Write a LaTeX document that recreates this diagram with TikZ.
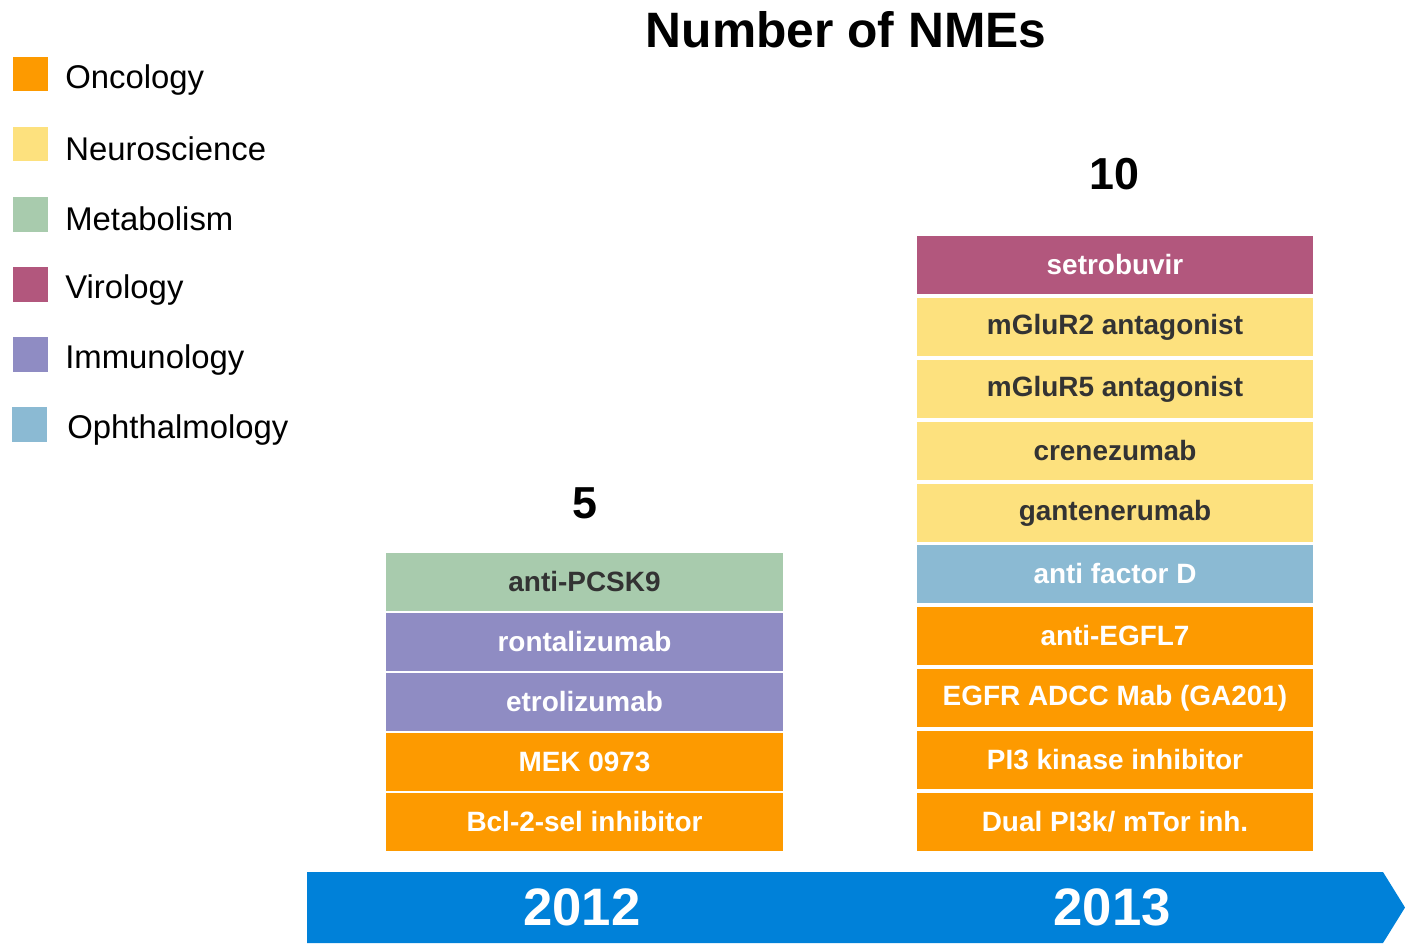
\documentclass[tikz,border=0pt]{standalone}
\usepackage{fontspec}
\setmainfont{Liberation Sans}
\usetikzlibrary{positioning}

\definecolor{onco}{HTML}{FD9A00}
\definecolor{neuro}{HTML}{FDE17E}
\definecolor{metab}{HTML}{A8CBAD}
\definecolor{viro}{HTML}{B2577D}
\definecolor{immuno}{HTML}{8F8CC3}
\definecolor{ophtha}{HTML}{8BBAD3}
\definecolor{banner}{HTML}{0081D9}
\definecolor{darktext}{HTML}{333333}

\begin{document}
\begin{tikzpicture}[
  x=0.02cm, y=-0.02cm,
  drug/.style={minimum width=7.94cm, minimum height=1.16cm, inner sep=0pt,
    font=\fontsize{15.9}{18}\selectfont\bfseries, text=white},
  darkdrug/.style={drug, text=darktext},
  swatch/.style={minimum size=0.7cm, inner sep=0pt},
  legtext/.style={anchor=west, inner sep=0pt, font=\fontsize{18.7}{22}\selectfont},
  count/.style={font=\fontsize{25.5}{30}\selectfont\bfseries},
  year/.style={font=\fontsize{30}{36}\selectfont\bfseries, text=white}
]
\useasboundingbox (0,0) rectangle (1405,943);

% Title
\node[font=\fontsize{28.3}{34}\selectfont\bfseries] (title) at (846,30) {Number of NMEs};

% Legend
\node[swatch, fill=onco]   (sw1) at (30.5,74)  {};
\node[swatch, fill=neuro]  (sw2) at (30.5,144) {};
\node[swatch, fill=metab]  (sw3) at (30.5,214) {};
\node[swatch, fill=viro]   (sw4) at (30.5,284) {};
\node[swatch, fill=immuno] (sw5) at (30.5,354) {};
\node[swatch, fill=ophtha] (sw6) at (29.5,424) {};
\node[legtext] (lg1) at (65,80)  {Oncology};
\node[legtext] (lg2) at (65,149) {Neuroscience};
\node[legtext] (lg3) at (65,219) {Metabolism};
\node[legtext] (lg4) at (65,290) {Virology};
\node[legtext] (lg5) at (65,360) {Immunology};
\node[legtext] (lg6) at (67,430) {Ophthalmology};

% 2012 stack
\node[count] (n12) at (585,503) {5};
\node[darkdrug, fill=metab] (a1) at (584.5,582) {anti-PCSK9};
\node[drug, fill=immuno]    (a2) at (584.5,642) {rontalizumab};
\node[drug, fill=immuno]    (a3) at (584.5,702) {etrolizumab};
\node[drug, fill=onco]      (a4) at (584.5,762) {MEK 0973};
\node[drug, fill=onco]      (a5) at (584.5,822) {Bcl-2-sel inhibitor};

% 2013 stack
\node[count] (n13) at (1114,174) {10};
\node[drug, fill=viro]      (b1)  at (1115,265) {setrobuvir};
\node[darkdrug, fill=neuro] (b2)  at (1115,327) {mGluR2 antagonist};
\node[darkdrug, fill=neuro] (b3)  at (1115,389) {mGluR5 antagonist};
\node[darkdrug, fill=neuro] (b4)  at (1115,451) {crenezumab};
\node[darkdrug, fill=neuro] (b5)  at (1115,513) {gantenerumab};
\node[drug, fill=ophtha]    (b6)  at (1115,574) {anti factor D};
\node[drug, fill=onco]      (b7)  at (1115,636) {anti-EGFL7};
\node[drug, fill=onco]      (b8)  at (1115,698) {EGFR ADCC Mab (GA201)};
\node[drug, fill=onco]      (b9)  at (1115,760) {PI3 kinase inhibitor};
\node[drug, fill=onco]      (b10) at (1115,822) {Dual PI3k/ mTor inh.};

% Time line
\fill[banner] (307,872) -- (1383,872) -- (1405,907.5) -- (1383,943) -- (307,943) -- cycle;
\node[year] (y12) at (582,907) {2012};
\node[year] (y13) at (1112,907) {2013};

\end{tikzpicture}
\end{document}
